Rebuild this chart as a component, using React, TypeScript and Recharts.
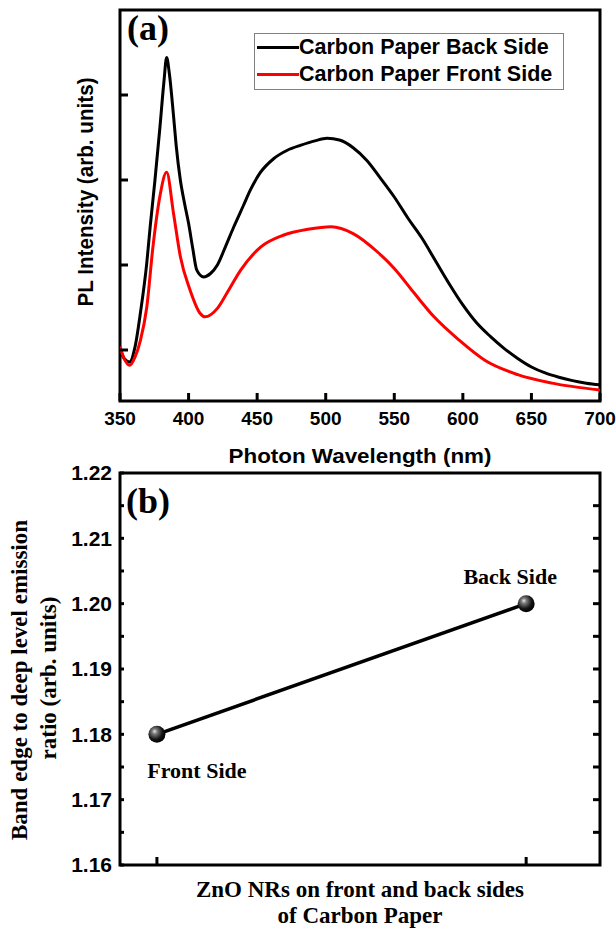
import React from 'react';
import { LineChart, Line, XAxis, YAxis, ReferenceArea, Legend } from 'recharts';

const SANS = "'Liberation Sans', Arial, sans-serif";
const SERIF = "'Liberation Serif', 'Times New Roman', serif";

// panel (a): PL spectra
const wavelengthTicks = [350, 400, 450, 500, 550, 600, 650, 700];
const intensityTicks = [0.6, 1.6, 2.6, 3.6];

const backWavelength = [
  350, 353, 357, 361, 365, 369.5, 372, 375.5, 379, 382, 384, 386, 389, 391, 394, 397, 400, 403, 406,
  411, 416, 421, 427, 433, 440, 445, 452, 462, 472, 482, 492, 501, 510, 520, 530, 540, 550, 560, 570,
  580, 590, 600, 610, 620, 630, 640, 650, 660, 670, 680, 690, 700,
];
const backIntensity = [
  0.62, 0.5, 0.46, 0.64, 1.05, 1.62, 2.05, 2.6, 3.2, 3.75, 4.04, 3.85, 3.36, 3.0, 2.6, 2.33, 2.09, 1.8,
  1.54, 1.46, 1.5, 1.6, 1.82, 2.05, 2.3, 2.48, 2.68, 2.85, 2.95, 3.01, 3.06, 3.09, 3.07, 2.98, 2.83,
  2.62, 2.4, 2.15, 1.92, 1.65, 1.38, 1.13, 0.92, 0.76, 0.62, 0.5, 0.4, 0.33, 0.28, 0.24, 0.21, 0.19,
];

const frontWavelength = [
  350, 353, 357, 361, 365, 369.5, 374, 379, 384, 389, 394, 401, 408.5, 412, 421, 428, 438, 452.5, 469,
  487, 504, 520, 538, 550, 564.5, 579, 597, 616, 640, 665, 700,
];
const frontIntensity = [
  0.64, 0.5, 0.42, 0.52, 0.72, 1.1, 1.81, 2.4, 2.69, 2.21, 1.7, 1.31, 1.03, 0.99, 1.09, 1.27, 1.54, 1.81,
  1.95, 2.02, 2.05, 1.97, 1.75, 1.56, 1.27, 0.99, 0.72, 0.48, 0.31, 0.21, 0.13,
];

// panel (b): band edge / deep level ratio
const sideNames = ['Front Side', 'Back Side'];
const sidePositions = [1, 2];
const ratioValues = [1.18, 1.2];
const ratioTicks = [1.16, 1.165, 1.17, 1.175, 1.18, 1.185, 1.19, 1.195, 1.2, 1.205, 1.21, 1.215, 1.22];
const ratioInnerTicks = ratioTicks.slice(1, -1);

const backData = backWavelength.map((wl, i) => ({ wl, value: backIntensity[i] }));
const frontData = frontWavelength.map((wl, i) => ({ wl, value: frontIntensity[i] }));
const ratioData = sidePositions.map((pos, i) => ({ pos, ratio: ratioValues[i], side: sideNames[i] }));

const blank = () => '';
const majorLabel = (v: number) => (Math.round(v * 1000) % 10 === 0 ? v.toFixed(2) : '');

const renderLegend = (props: any) => (
  <div
    style={{
      border: '1px solid #808080',
      background: '#fff',
      boxSizing: 'border-box',
      width: 310,
      height: 57,
      paddingLeft: 2,
    }}
  >
    {(props.payload || []).map((entry: any) => (
      <div key={entry.value} style={{ display: 'flex', alignItems: 'center', height: 27 }}>
        <span style={{ display: 'inline-block', width: 42, height: 3, background: entry.color }} />
        <span style={{ fontFamily: SANS, fontWeight: 700, fontSize: 21.5, lineHeight: '27px', color: '#000' }}>
          {entry.value}
        </span>
      </div>
    ))}
  </div>
);

const renderSphere = (props: any) => {
  const { cx, cy, index, payload } = props;
  const below = index === 0;
  const id = `sphere-${index}`;
  return (
    <g key={id}>
      <defs>
        <radialGradient id={id} cx="40%" cy="38%" r="62%" fx="36%" fy="32%">
          <stop offset="0%" stopColor="#e6e6e6" />
          <stop offset="25%" stopColor="#7a7a7a" />
          <stop offset="70%" stopColor="#151515" />
          <stop offset="100%" stopColor="#000" />
        </radialGradient>
      </defs>
      <circle cx={cx} cy={cy} r={8.5} fill={`url(#${id})`} />
      <text
        x={below ? cx + 40 : cx - 16}
        y={below ? cy + 44 : cy - 20}
        textAnchor="middle"
        fontFamily={SERIF}
        fontWeight={700}
        fontSize={22}
        fill="#000"
      >
        {payload.side}
      </text>
    </g>
  );
};

const App: React.FC = () => {
  return (
    <div style={{ position: 'absolute', top: 0, left: 0, width: 616, height: 929, background: '#fff' }}>
      <div style={{ position: 'absolute', top: 0, left: 0 }}>
        <LineChart width={616} height={470} margin={{ top: 10, right: 16, bottom: 0, left: 0 }}>
          <XAxis
            dataKey="wl"
            type="number"
            domain={[350, 700]}
            allowDataOverflow
            ticks={wavelengthTicks}
            interval={0}
            height={69}
            axisLine={false}
            tickSize={-8}
            tickMargin={19}
            tickLine={{ stroke: '#000', strokeWidth: 3 }}
            tick={{ fill: '#000', fontSize: 19, fontWeight: 700, fontFamily: SANS }}
            label={(p: any) => (
              <text
                x={p.viewBox.x + p.viewBox.width / 2}
                y={p.viewBox.y + 62}
                textAnchor="middle"
                fontFamily={SANS}
                fontWeight={700}
                fontSize={21}
                textLength={263}
                lengthAdjust="spacingAndGlyphs"
                fill="#000"
              >
                Photon Wavelength (nm)
              </text>
            )}
          />
          <YAxis
            type="number"
            domain={[0, 4.6]}
            allowDataOverflow
            ticks={intensityTicks}
            interval={0}
            width={120}
            axisLine={false}
            tickSize={-8}
            tickFormatter={blank}
            tickLine={{ stroke: '#000', strokeWidth: 3 }}
            label={() => (
              <text
                x={93}
                y={192}
                transform="rotate(-90, 93, 192)"
                textAnchor="middle"
                fontFamily={SANS}
                fontWeight={700}
                fontSize={22}
                textLength={229}
                lengthAdjust="spacingAndGlyphs"
                fill="#000"
              >
                PL Intensity (arb. units)
              </text>
            )}
          />
          <ReferenceArea
            x1={350}
            x2={700}
            y1={0}
            y2={4.6}
            fill="none"
            stroke="#000"
            strokeWidth={3}
            label={(p: any) => (
              <text x={p.viewBox.x + 7} y={p.viewBox.y + 30} fontFamily={SERIF} fontWeight={700} fontSize={36} fill="#000">
                (a)
              </text>
            )}
          />
          <Legend
            layout="horizontal"
            verticalAlign="middle"
            align="center"
            content={renderLegend}
            wrapperStyle={{ position: 'absolute', top: 33, left: 254, width: 310, height: 57 }}
          />
          <Line
            data={backData}
            dataKey="value"
            name="Carbon Paper Back Side"
            type="monotone"
            stroke="#000"
            strokeWidth={3}
            dot={false}
            isAnimationActive={false}
          />
          <Line
            data={frontData}
            dataKey="value"
            name="Carbon Paper Front Side"
            type="monotone"
            stroke="#ff0000"
            strokeWidth={3}
            dot={false}
            isAnimationActive={false}
          />
        </LineChart>
      </div>

      <div style={{ position: 'absolute', top: 440, left: 0 }}>
        <LineChart width={616} height={489} data={ratioData} margin={{ top: 33, right: 0, bottom: 0, left: 0 }}>
          <XAxis
            dataKey="pos"
            type="number"
            domain={[0.9, 2.2]}
            allowDataOverflow
            ticks={sidePositions}
            interval={0}
            height={64}
            axisLine={false}
            tickSize={-8}
            tickFormatter={blank}
            tickLine={{ stroke: '#000', strokeWidth: 3 }}
            label={(p: any) => {
              const cx = p.viewBox.x + p.viewBox.width / 2;
              return (
                <text textAnchor="middle" fontFamily={SERIF} fontWeight={700} fontSize={23} fill="#000">
                  <tspan x={cx} y={p.viewBox.y + 32}>ZnO NRs on front and back sides</tspan>
                  <tspan x={cx} y={p.viewBox.y + 58}>of Carbon Paper</tspan>
                </text>
              );
            }}
          />
          <YAxis
            dataKey="ratio"
            type="number"
            domain={[1.16, 1.22]}
            allowDataOverflow
            ticks={ratioTicks}
            interval={0}
            width={120}
            axisLine={false}
            tickSize={-4}
            tickMargin={12}
            tickFormatter={majorLabel}
            tickLine={{ stroke: '#000', strokeWidth: 3 }}
            tick={{ fill: '#000', fontSize: 21, fontWeight: 700, fontFamily: SANS }}
            label={() => (
              <g>
                <text
                  x={27}
                  y={240}
                  transform="rotate(-90, 27, 240)"
                  textAnchor="middle"
                  fontFamily={SERIF}
                  fontWeight={700}
                  fontSize={23}
                  fill="#000"
                >
                  Band edge to deep level emission
                </text>
                <text
                  x={56}
                  y={238}
                  transform="rotate(-90, 56, 238)"
                  textAnchor="middle"
                  fontFamily={SERIF}
                  fontWeight={700}
                  fontSize={23}
                  fill="#000"
                >
                  ratio (arb. units)
                </text>
              </g>
            )}
          />
          <YAxis
            yAxisId="right"
            orientation="right"
            type="number"
            domain={[1.16, 1.22]}
            allowDataOverflow
            ticks={ratioInnerTicks}
            interval={0}
            width={16}
            axisLine={false}
            tickSize={-7}
            tickFormatter={blank}
            tickLine={{ stroke: '#000', strokeWidth: 3 }}
          />
          <ReferenceArea
            x1={0.9}
            x2={2.2}
            y1={1.16}
            y2={1.22}
            fill="none"
            stroke="#000"
            strokeWidth={3}
            label={(p: any) => (
              <text x={p.viewBox.x + 6} y={p.viewBox.y + 40} fontFamily={SERIF} fontWeight={700} fontSize={36} fill="#000">
                (b)
              </text>
            )}
          />
          <Line
            dataKey="ratio"
            type="linear"
            stroke="#000"
            strokeWidth={3.5}
            dot={renderSphere}
            isAnimationActive={false}
          />
        </LineChart>
      </div>
    </div>
  );
};

export default App;
